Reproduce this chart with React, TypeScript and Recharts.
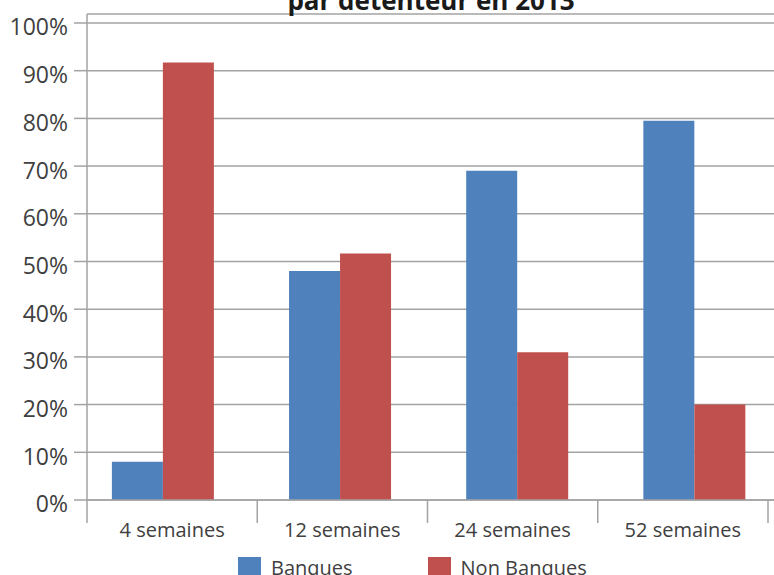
import React from 'react';
import { BarChart, Bar, XAxis, YAxis, CartesianGrid, Legend } from 'recharts';

const title = 'par détenteur en 2013';
const categories = ['4 semaines', '12 semaines', '24 semaines', '52 semaines'];
const seriesNames = ['Banques', 'Non Banques'];
const banques = [0.08, 0.48, 0.69, 0.795];
const nonBanques = [0.917, 0.517, 0.31, 0.2];
const yTicks = [0, 0.1, 0.2, 0.3, 0.4, 0.5, 0.6, 0.7, 0.8, 0.9, 1];
const xBoundaryTicks = [0, 0.5, 1, 1.5, 2, 2.5, 3, 3.5, 4];
// the bar groups sit on a slightly wider spacing than the category ticks
const barsDomain = [0.074, 3.952];

const BLUE = '#4F81BD';
const RED = '#C0504D';
const GRID = '#A3A3A3';
const TEXT = '#404040';
const FONT = '"Open Sans", "Noto Sans", sans-serif';

const data = categories.map((c, i) => ({ cat: c, pos: i + 0.5, banques: banques[i], nonBanques: nonBanques[i] }));

const XTick = (props: any) => {
  const { x, y, payload } = props;
  const v = payload.value as number;
  if (Number.isInteger(v)) {
    return <line x1={x} x2={x} y1={y} y2={y + 23} stroke={GRID} strokeWidth={1.5} />;
  }
  return (
    <text x={x} y={y + 36.5} textAnchor="middle" fill={TEXT} fontSize={20} fontFamily={FONT}>
      {categories[Math.floor(v)]}
    </text>
  );
};

const YTick = (props: any) => {
  const { x, y, payload } = props;
  return (
    <text x={x} y={y} dy={12.4} textAnchor="end" fill={TEXT} fontSize={23} fontFamily={FONT}>
      {Math.round(payload.value * 100) + '%'}
    </text>
  );
};

const LegendContent = (props: any) => {
  const { payload } = props;
  return (
    <div style={{ display: 'flex', paddingLeft: 238, fontFamily: FONT }}>
      {(payload || []).map((p: any, i: number) => (
        <div key={i} style={{ display: 'flex', alignItems: 'flex-start', marginRight: 75 }}>
          <div style={{ width: 23, height: 23, background: p.color }} />
          <span style={{ marginLeft: 10, fontSize: 20, lineHeight: '21px', color: TEXT, whiteSpace: 'nowrap' }}>
            {p.value}
          </span>
        </div>
      ))}
    </div>
  );
};

export default function App() {
  return (
    <div style={{ position: 'absolute', left: 0, top: 0, width: 774, height: 575, overflow: 'hidden', background: '#fff' }}>
      <BarChart
        width={774}
        height={575}
        data={data}
        margin={{ top: 14, right: 0, bottom: 7, left: 0 }}
        barCategoryGap={38}
        barGap={0}
      >
        <CartesianGrid horizontal vertical={false} stroke={GRID} strokeWidth={1.5} />
        <XAxis
          dataKey="pos"
          type="number"
          domain={[0, 4]}
          allowDataOverflow
          ticks={xBoundaryTicks}
          interval={0}
          padding={{ left: 0, right: 6 }}
          height={45}
          tickLine={false}
          tickSize={0}
          tickMargin={0}
          axisLine={{ stroke: GRID, strokeWidth: 1.5 }}
          tick={<XTick />}
        />
        <XAxis xAxisId="bars" dataKey="pos" type="number" domain={barsDomain} allowDataOverflow hide />
        <YAxis
          type="number"
          domain={[0, 1]}
          ticks={yTicks}
          interval={0}
          width={87}
          padding={{ top: 9, bottom: 0 }}
          tickSize={13}
          tickMargin={6}
          tickLine={{ stroke: GRID, strokeWidth: 1.5 }}
          axisLine={{ stroke: GRID, strokeWidth: 1.5 }}
          tick={<YTick />}
        />
        <Legend
          verticalAlign="bottom"
          align="left"
          layout="horizontal"
          wrapperStyle={{ top: 557, bottom: 'auto', left: 0 }}
          content={<LegendContent />}
        />
        <Bar xAxisId="bars" dataKey="banques" name={seriesNames[0]} fill={BLUE} isAnimationActive={false} />
        <Bar xAxisId="bars" dataKey="nonBanques" name={seriesNames[1]} fill={RED} isAnimationActive={false} />
      </BarChart>
      <svg width={774} height={575} style={{ position: 'absolute', left: 0, top: 0, pointerEvents: 'none' }}>
        <text x={431} y={10} textAnchor="middle" fill="#1a1a1a" fontSize={26} fontWeight="bold" fontFamily={FONT}>
          {title}
        </text>
      </svg>
    </div>
  );
}
